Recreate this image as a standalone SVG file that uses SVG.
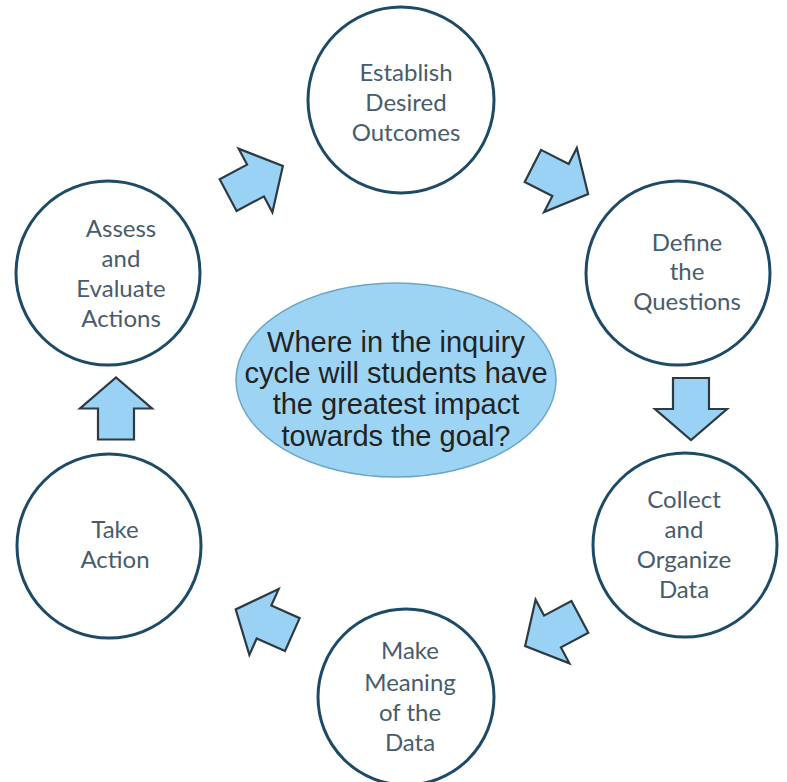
<svg xmlns="http://www.w3.org/2000/svg" width="787" height="782" viewBox="0 0 787 782">
  <style>
    .stage { fill: #ffffff; stroke: #1d4a66; stroke-width: 3; }
    .stage-label { font-family: Lato, "Open Sans", sans-serif; font-size: 24px; fill: #485c6c; text-anchor: middle; }
    .hub { fill: #9dd4f4; stroke: #6aa6c8; stroke-width: 1.5; }
    .hub-label { font-family: "Liberation Sans", Arial, sans-serif; font-size: 29px; fill: #222222; text-anchor: middle; }
    .flow { fill: #99d2f5; stroke: #2e3a42; stroke-width: 2.2; stroke-linejoin: miter; }
  </style>
  <defs>
    <!-- block arrow pointing right, centred on the origin -->
    <polygon id="block-arrow" points="-31,-18 0,-18 0,-36 31,0 0,36 0,18 -31,18"/>
  </defs>

  <rect width="787" height="782" fill="#ffffff"/>

  <!-- central question -->
  <g id="hub">
    <ellipse class="hub" cx="396" cy="380" rx="160" ry="97"/>
    <text class="hub-label" x="396" y="352">Where in the inquiry</text>
    <text class="hub-label" x="396" y="383">cycle will students have</text>
    <text class="hub-label" x="396" y="414">the greatest impact</text>
    <text class="hub-label" x="396" y="446">towards the goal?</text>
  </g>

  <!-- cycle stages -->
  <g id="establish">
    <circle class="stage" cx="401" cy="100" r="93"/>
    <text class="stage-label" x="406" y="81">Establish</text>
    <text class="stage-label" x="406" y="111">Desired</text>
    <text class="stage-label" x="406" y="141">Outcomes</text>
  </g>

  <g id="define">
    <circle class="stage" cx="678" cy="273" r="92"/>
    <text class="stage-label" x="687" y="251">Define</text>
    <text class="stage-label" x="687" y="280">the</text>
    <text class="stage-label" x="687" y="310">Questions</text>
  </g>

  <g id="collect">
    <circle class="stage" cx="685" cy="545" r="92"/>
    <text class="stage-label" x="684" y="508">Collect</text>
    <text class="stage-label" x="684" y="538">and</text>
    <text class="stage-label" x="684" y="568">Organize</text>
    <text class="stage-label" x="684" y="598">Data</text>
  </g>

  <g id="meaning">
    <circle class="stage" cx="406" cy="697" r="88"/>
    <text class="stage-label" x="410" y="659">Make</text>
    <text class="stage-label" x="410" y="691">Meaning</text>
    <text class="stage-label" x="410" y="721">of the</text>
    <text class="stage-label" x="410" y="751">Data</text>
  </g>

  <g id="take-action">
    <circle class="stage" cx="109" cy="546" r="92"/>
    <text class="stage-label" x="115" y="538">Take</text>
    <text class="stage-label" x="115" y="568">Action</text>
  </g>

  <g id="assess">
    <circle class="stage" cx="108" cy="273" r="92"/>
    <text class="stage-label" x="121" y="237">Assess</text>
    <text class="stage-label" x="121" y="267">and</text>
    <text class="stage-label" x="121" y="297">Evaluate</text>
    <text class="stage-label" x="121" y="327">Actions</text>
  </g>

  <!-- arrows between stages -->
  <g id="connectors">
    <use href="#block-arrow" class="flow" transform="translate(255.5,180.5) rotate(-28)"/>
    <use href="#block-arrow" class="flow" transform="translate(560.5,180) rotate(27)"/>
    <use href="#block-arrow" class="flow" transform="translate(691,409) rotate(90)"/>
    <use href="#block-arrow" class="flow" transform="translate(552.5,631.5) rotate(152)"/>
    <use href="#block-arrow" class="flow" transform="translate(264,622) rotate(204)"/>
    <use href="#block-arrow" class="flow" transform="translate(116,408.5) rotate(-90)"/>
  </g>
</svg>
